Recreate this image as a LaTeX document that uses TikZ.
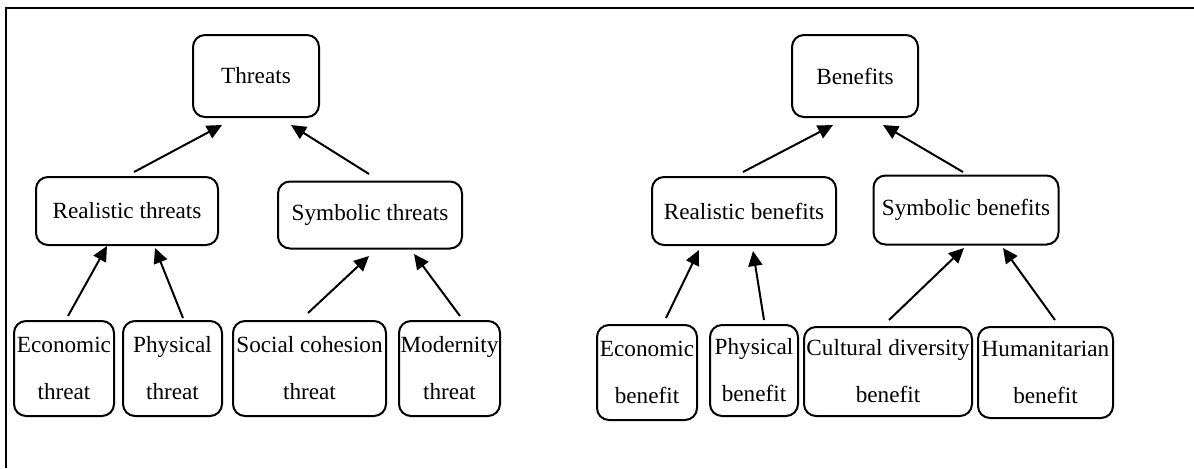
\documentclass[tikz,border=0pt]{standalone}
\usepackage{fontspec}
\setmainfont{Liberation Serif}
\usetikzlibrary{positioning,calc,arrows.meta}
\tikzset{
  box/.style={draw,line width=1pt,rounded corners=6pt,inner sep=0pt,align=center,
    font=\fontsize{11.6}{23.5}\selectfont},
  up/.style={line width=1pt,-{Triangle[length=7.5pt,width=7pt]}}
}
\begin{document}
\begin{tikzpicture}[x=0.5pt,y=-0.5pt]
        \useasboundingbox (0,0) rectangle (1194,468);
        \draw[line width=1pt] (1194,8) -- (6,8) -- (6,468);
        \node[box,minimum width=63pt,minimum height=41pt](thr) at (256,76) {Threats};
        \node[box,minimum width=63pt,minimum height=41pt](ben) at (855,76) {Benefits};
        \node[box,minimum width=91pt,minimum height=34pt](rthr) at (127,211) {Realistic threats};
        \node[box,minimum width=92pt,minimum height=33.5pt](sthr) at (370,215) {Symbolic threats};
        \node[box,minimum width=92pt,minimum height=34pt](rben) at (744,211) {Realistic benefits};
        \node[box,minimum width=92.5pt,minimum height=34.5pt](sben) at (966,210) {Symbolic benefits};
        \node[box,minimum width=50pt,minimum height=47.5pt](ethr) at (64,368.5) {Economic\\threat};
        \node[box,minimum width=49.5pt,minimum height=47.5pt](pthr) at (172.5,368.5) {Physical\\threat};
        \node[box,minimum width=76.5pt,minimum height=47.5pt](cthr) at (309.5,368.5) {Social cohesion\\threat};
        \node[box,minimum width=50.5pt,minimum height=47.5pt](mthr) at (449.5,368.5) {Modernity\\threat};
        \node[box,minimum width=50pt,minimum height=47.5pt](eben) at (647,372.5) {Economic\\benefit};
        \node[box,minimum width=44pt,minimum height=45.5pt](pben) at (754,370.5) {Physical\\benefit};
        \node[box,minimum width=84pt,minimum height=44.5pt](dben) at (888,371.5) {Cultural diversity\\benefit};
        \node[box,minimum width=67.5pt,minimum height=45.5pt](hben) at (1045.5,372.5) {Humanitarian\\benefit};
        \draw[up] ($(rthr.north)+(7,-4)$) -- ($(thr.south)+(-34,7)$);
        \draw[up] ($(sthr.north)+(-1,-6.5)$) -- ($(thr.south)+(35,7)$);
        \draw[up] ($(rben.north)+(-1,-4)$) -- ($(ben.south)+(-22,7)$);
        \draw[up] ($(sben.north)+(-3,-2.5)$) -- ($(ben.south)+(28,7)$);
        \draw[up] ($(ethr.north)+(4,-4)$) -- ($(rthr.south)+(-20,0)$);
        \draw[up] ($(pthr.north)+(10.5,-2)$) -- ($(rthr.south)+(28,2)$);
        \draw[up] ($(cthr.north)+(-1.5,-7)$) -- ($(sthr.south)+(-1,6.5)$);
        \draw[up] ($(mthr.north)+(10.5,-4)$) -- ($(sthr.south)+(44,4.5)$);
        \draw[up] ($(eben.north)+(19,-6)$) -- ($(rben.south)+(-45,4)$);
        \draw[up] ($(pben.north)+(10,-4)$) -- ($(rben.south)+(9,5)$);
        \draw[up] ($(dben.north)+(1,-6)$) -- ($(sben.south)+(-2,2.5)$);
        \draw[up] ($(hben.north)+(9.5,-6)$) -- ($(sben.south)+(37,2.5)$);
    \end{tikzpicture}
\end{document}
